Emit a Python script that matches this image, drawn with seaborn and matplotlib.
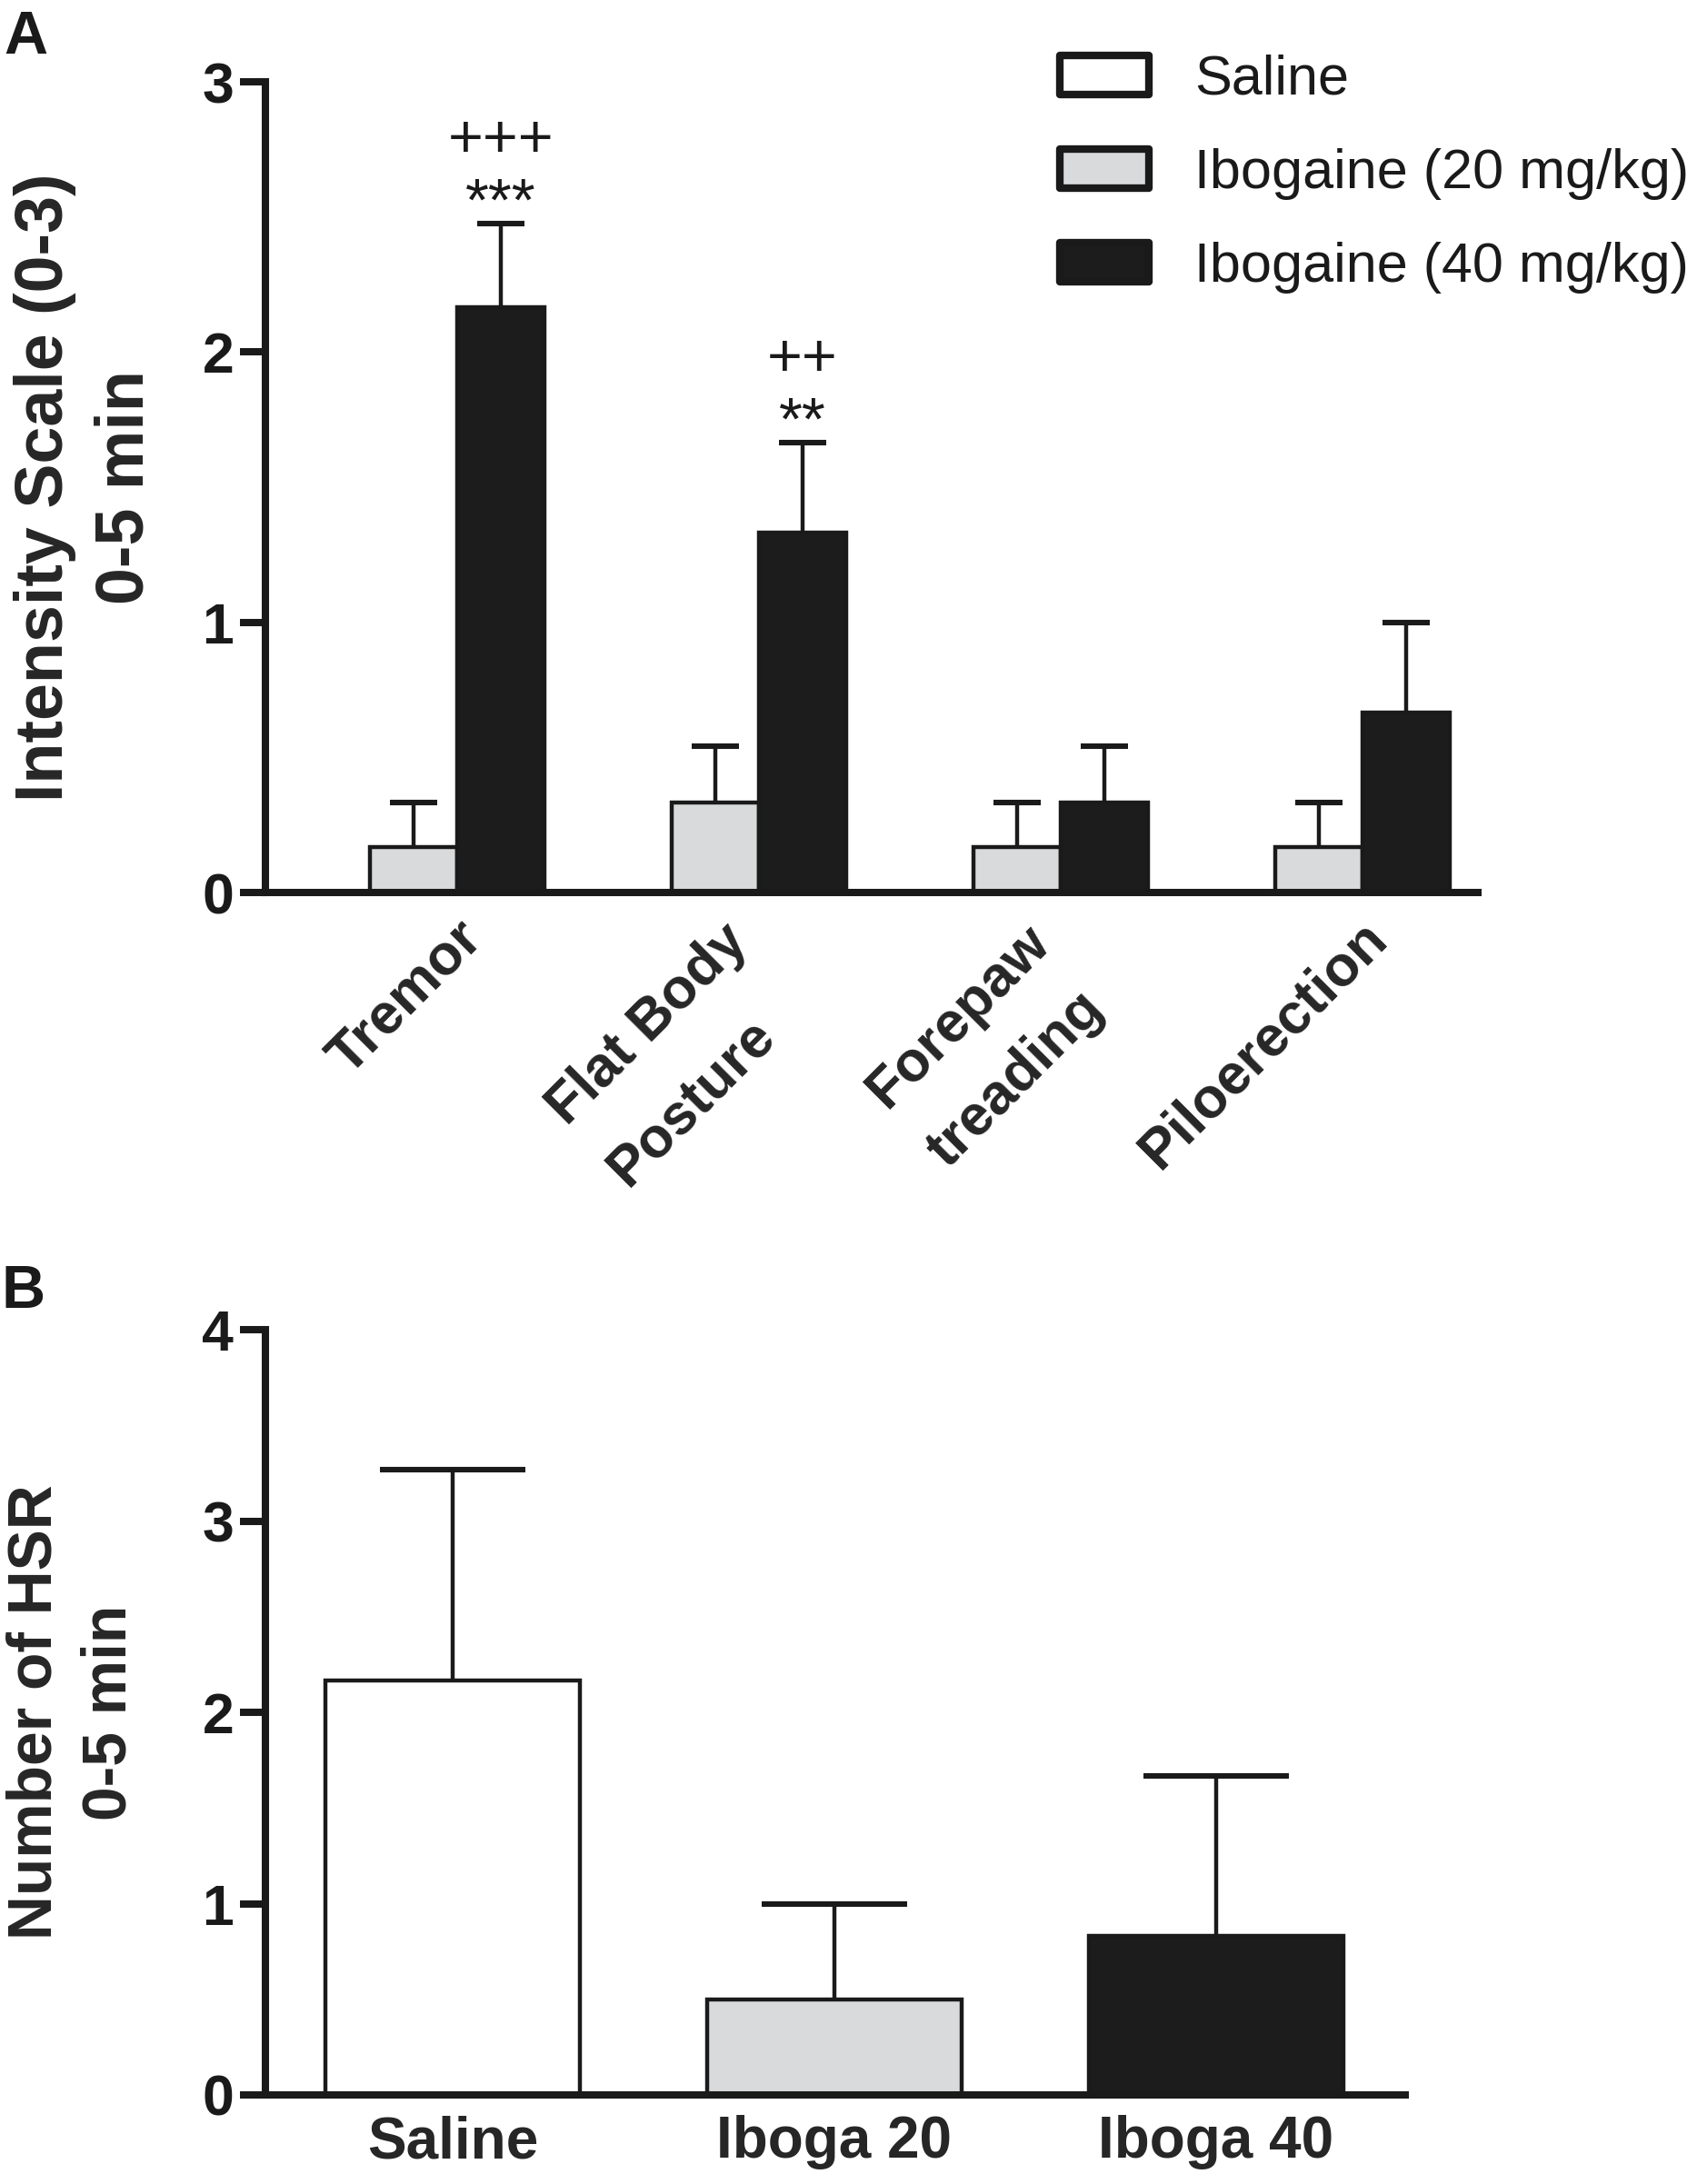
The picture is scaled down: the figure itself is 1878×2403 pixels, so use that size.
import numpy as np
import pandas as pd
import seaborn as sns
import matplotlib
matplotlib.use("Agg")
import matplotlib.pyplot as plt
from matplotlib.container import BarContainer
from matplotlib.transforms import ScaledTranslation

# ---- datos panel A ----
behaviors = ["Tremor", "Flat Body\nPosture", "Forepaw\ntreading", "Piloerection"]
groups = ["Saline", "Ibogaine (20 mg/kg)", "Ibogaine (40 mg/kg)"]
saline_mean = [0.0, 0.0, 0.0, 0.0]
saline_sem = [0.0, 0.0, 0.0, 0.0]
ibo20_mean = [0.167, 0.333, 0.167, 0.167]
ibo20_sem = [0.167, 0.21, 0.167, 0.167]
ibo40_mean = [2.167, 1.333, 0.333, 0.667]
ibo40_sem = [0.31, 0.333, 0.21, 0.333]
sig_stars = ["***", "**", "", ""]
sig_plus = ["+++", "++", "", ""]

# ---- datos panel B ----
hsr_groups = ["Saline", "Iboga 20", "Iboga 40"]
hsr_mean = [2.167, 0.5, 0.833]
hsr_sem = [1.1, 0.5, 0.833]

colors = {"Saline": "white", "Ibogaine (20 mg/kg)": "#d9dadb", "Ibogaine (40 mg/kg)": "#1c1c1c"}
colors_b = {"Saline": "white", "Iboga 20": "#d9dadb", "Iboga 40": "#1c1c1c"}

sns.set_theme(style="ticks")
plt.rcParams["font.family"] = ["Liberation Sans", "DejaVu Sans"]
ink = "#1a1a1a"
plt.rcParams["text.color"] = ink
plt.rcParams["axes.edgecolor"] = ink

DPI = 200
fig = plt.figure(figsize=(1878 / DPI, 2403 / DPI), dpi=DPI)
axA = fig.add_axes([292 / 1878, 1 - 982 / 2403, (1626 - 292) / 1878, (982 - 90) / 2403])
axB = fig.add_axes([292 / 1878, 1 - 2305 / 2403, (1546 - 292) / 1878, (2305 - 1463) / 2403])

edge_lw = 1.6
spine_lw = 2.9

dfA = pd.DataFrame({
    "behavior": np.repeat(behaviors, len(groups)),
    "group": groups * len(behaviors),
    "mean": np.ravel(np.column_stack([saline_mean, ibo20_mean, ibo40_mean])),
})
sems = [saline_sem, ibo20_sem, ibo40_sem]
means = [saline_mean, ibo20_mean, ibo40_mean]

sns.barplot(data=dfA, x="behavior", y="mean", hue="group", hue_order=groups, order=behaviors,
            palette=colors, saturation=1, width=0.867, edgecolor=ink, linewidth=edge_lw,
            errorbar=None, ax=axA)


def upper_errbars(ax, xs, ys, es, capsize):
    xs, ys, es = np.asarray(xs), np.asarray(ys), np.asarray(es)
    _, caps, _ = ax.errorbar(xs, ys, yerr=[np.zeros_like(es), es], fmt="none", ecolor=ink,
                             elinewidth=edge_lw, capsize=capsize, capthick=2.2, zorder=3)
    for c in caps:
        if np.allclose(c.get_ydata(), ys):
            c.remove()  # solo la tapa superior, como en GraphPad


# un BarContainer por grupo (hue), barras en orden de categoria
contsA = [c for c in axA.containers if isinstance(c, BarContainer)]
xs, ys, es = [], [], []
for hi, cont in enumerate(contsA):
    for ci, p in enumerate(cont.patches):
        xc = p.get_x() + p.get_width() / 2
        if sems[hi][ci] > 0:
            xs.append(xc)
            ys.append(means[hi][ci])
            es.append(sems[hi][ci])
        if hi == 2 and sig_stars[ci]:
            top = means[hi][ci] + sems[hi][ci]
            axA.text(xc, top + 0.01, sig_stars[ci], ha="center", va="baseline", fontsize=24, clip_on=False)
            axA.text(xc, top + 0.245, sig_plus[ci], ha="center", va="baseline", fontsize=24, clip_on=False)
upper_errbars(axA, xs, ys, es, 9.4)

axA.set_xlim(-0.491, 3.527)
axA.set_ylim(0, 3)
axA.set_yticks([0, 1, 2, 3])
axA.set_xlabel("")
axA.set_ylabel("Intensity Scale (0-3)\n0-5 min", fontsize=26.5, fontweight="bold", linespacing=1.37)
axA.yaxis.set_label_coords((173 - 292) / (1626 - 292), 0.5)

leg = axA.legend(loc="upper left", bbox_to_anchor=(1166 / 1878, 1 - 60 / 2403),
                 bbox_transform=fig.transFigure, frameon=False, borderpad=0, borderaxespad=0,
                 handlelength=1.6, handleheight=0.7, handletextpad=0.82, labelspacing=0.75,
                 prop={"size": 22})
for h in leg.legend_handles:
    h.set_linewidth(3.0)
    h.set_joinstyle("round")

# ---- panel B ----
dfB = pd.DataFrame({"group": hsr_groups, "mean": hsr_mean})
sns.barplot(data=dfB, x="group", y="mean", hue="group", palette=colors_b, legend=False,
            saturation=1, width=0.667, edgecolor=ink, linewidth=edge_lw, errorbar=None, ax=axB)
contsB = [c for c in axB.containers if isinstance(c, BarContainer)]
xb = [c.patches[0].get_x() + c.patches[0].get_width() / 2 for c in contsB]
upper_errbars(axB, xb, hsr_mean, hsr_sem, 28.8)
axB.set_xlim(-0.49, 2.495)
axB.set_ylim(0, 4)
axB.set_yticks([0, 1, 2, 3, 4])
axB.set_xlabel("")
axB.set_ylabel("Number of HSR\n0-5 min", fontsize=24.4, fontweight="bold", linespacing=1.36)
axB.yaxis.set_label_coords((153 - 292) / (1546 - 292), 0.5)

for ax in (axA, axB):
    sns.despine(ax=ax)
    for s in ("left", "bottom"):
        ax.spines[s].set_linewidth(spine_lw)
        ax.spines[s].set_color(ink)
    ax.tick_params(axis="y", direction="out", length=10, width=spine_lw, pad=2.5, colors=ink)
    for lab in ax.get_yticklabels():
        lab.set_fontweight("bold")
        lab.set_fontsize(22.5)

axA.tick_params(axis="x", length=0, pad=0)
axA.set_xticks(range(len(behaviors)))
axA.set_xticklabels(behaviors, rotation=45, ha="right", va="top", rotation_mode="anchor",
                    multialignment="left", fontsize=22.5, fontweight="bold", linespacing=1.76)
for lab in axA.get_xticklabels():
    n_lines = lab.get_text().count("\n") + 1
    dx, dy = (45, 20) if n_lines == 1 else (6, 24)
    lab.set_transform(lab.get_transform() + ScaledTranslation(dx / DPI, -dy / DPI, fig.dpi_scale_trans))

axB.tick_params(axis="x", length=0, pad=8)
for lab in axB.get_xticklabels():
    lab.set_fontweight("bold")
    lab.set_fontsize(23)

fig.text(4 / 1878, 1 - 11 / 2403, "A", fontsize=24, fontweight="bold", ha="left", va="top")
fig.text(2 / 1878, 1 - 1391 / 2403, "B", fontsize=24, fontweight="bold", ha="left", va="top")

fig.savefig("out.png", dpi=DPI, facecolor="white")
